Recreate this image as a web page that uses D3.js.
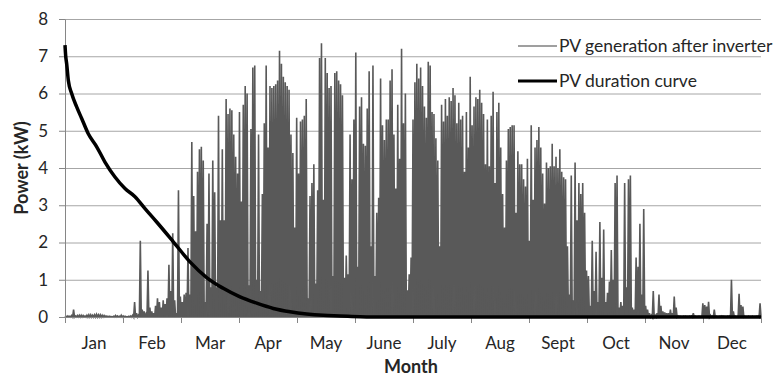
<!DOCTYPE html>
<html>
<head>
<meta charset="utf-8">
<script src="https://cdn.jsdelivr.net/npm/d3@7"></script>
<style>
  body { margin: 0; background: #fff; }
  text { font-family: Lato, "Liberation Sans", sans-serif; }
</style>
</head>
<body>
<div id="chart"></div>
<script>
// daily peak of PV generation after inverter (kW), one array per month
const jan = [0.02,0.03,0.02,0.04,0.2,0.03,0.04,0.05,0.05,0.04,0.03,0.05,0.06,0.06,0.05,0.06,0.07,0.06,0.06,0.05,0.04,0.03,0.02,0.02,0.01,0.02,0.04,0.03,0.02,0.05,0.03];
const feb = [0.02,0.01,0.02,0.03,0.05,0.4,0.1,0.05,2.05,0.2,0.15,0.08,1.25,0.25,0.15,0.1,0.3,0.5,0.4,0.25,0.45,0.35,0.5,1.4,0.7,2.25,0.45,0.1];
const mar = [3.4,0.55,0.4,0.6,0.65,1.85,0.6,4.7,3.25,2.3,3.9,4.5,4.57,4.2,0.4,2.5,3.85,0.8,4.2,3.35,0.8,5.4,2.6,4.5,2.6,5.85,5.45,5.6,5.55,4.9,4.3];
const apr = [3.85,5.5,3.1,5.7,6.2,6.0,0.85,5.05,6.7,6.75,1.0,4.9,0.7,3.3,5.2,6.75,4.55,6.2,6.15,6.2,6.25,6.35,7.15,6.8,6.45,6.3,6.2,6.1,4.9,4.4];
const may = [2.4,5.35,3.85,5.25,5.3,5.4,5.85,0.5,3.25,3.6,4.1,0.9,3.4,6.95,7.35,3.15,6.95,6.55,6.15,6.2,1.1,6.55,6.6,6.35,6.25,5.95,1.05,1.65,1.15,4.9,3.7];
const jun = [5.3,7.1,1.35,5.65,5.9,4.65,4.6,5.6,6.6,1.9,6.75,1.1,2.8,3.2,6.4,5.15,4.75,5.3,5.3,6.35,6.65,4.9,3.45,5.7,4.25,7.2,5.2,6.0,0.72,1.15];
const jul = [1.6,5.3,6.3,6.8,6.4,6.7,6.2,5.65,5.35,6.85,6.75,5.5,5.45,4.8,4.2,1.9,5.7,5.25,5.85,5.4,5.9,5.8,6.15,5.95,5.2,5.75,5.3,5.4,3.9,5.5,4.55];
const aug = [6.45,5.15,5.65,5.9,5.85,6.1,5.75,5.45,4.1,5.3,4.05,5.4,6.05,3.6,5.5,5.75,4.55,3.3,2.4,4.2,5.05,5.1,5.15,5.15,2.8,4.45,4.1,4.1,3.7,3.5,4.25];
const sep = [2.05,5.15,3.15,4.55,4.75,5.1,4.55,3.85,3.05,4.15,4.0,4.05,4.65,4.05,4.3,4.0,4.5,3.9,3.75,3.7,1.9,0.6,3.8,0.45,4.15,2.6,3.6,3.3,3.6,2.8];
const oct = [1.25,1.1,0.3,2.05,0.7,1.75,0.4,2.55,1.05,2.35,0.4,0.65,0.95,1.8,1.0,3.6,3.8,0.25,0.4,0.3,3.6,0.8,3.7,3.8,0.25,0.2,1.6,1.35,2.5,0.6,2.9];
const nov = [0.3,0.2,0.1,0.05,0.7,0.05,0.1,0.6,0.3,0.15,0.12,0.1,0.1,0.2,0.1,0.55,0.25,0.03,0.02,0.01,0.02,0.02,0.01,0.02,0.03,0.1,0.02,0.01,0.02,0.01];
const dec = [0.37,0.32,0.28,0.41,0.05,0.02,0.2,0.02,0.01,0.02,0.03,0.02,0.01,0.02,0.03,1.0,0.15,0.02,0.01,0.62,0.32,0.28,0.02,0.01,0.02,0.01,0.02,0.01,0.02,0.03,0.37];

// duration curve: hours of the year ranked, power (kW)
const durHour = [0,9,21,42,84,147,210,293,399,503,629,755,881,1007,1154,1363,1573,1783,1992,2203,2413,2622,2832,3042,3251,3461,3713,4000,8760];
const durKW   = [7.3,7.0,6.8,6.35,6.0,5.64,5.33,4.92,4.57,4.16,3.76,3.45,3.23,2.91,2.55,2.02,1.48,1.06,0.77,0.54,0.37,0.23,0.14,0.08,0.045,0.03,0.01,0,0];

const months = ["Jan","Feb","Mar","Apr","May","June","July","Aug","Sept","Oct","Nov","Dec"];
const yTicks = [0,1,2,3,4,5,6,7,8];
const seriesNames = ["PV generation after inverter", "PV duration curve"];

const width = 775, height = 380;
const x = d3.scaleLinear().domain([0, 365]).range([65, 761]);
const y = d3.scaleLinear().domain([0, 8]).range([317, 19]);

const svg = d3.select("#chart").append("svg")
    .attr("width", width)
    .attr("height", height);

// gridlines
svg.append("g")
    .attr("transform", "translate(65,0)")
    .call(d3.axisLeft(y).tickValues(yTicks.slice(1)).tickSize(-696).tickFormat(""))
    .call(g => g.select(".domain").remove())
    .selectAll("line").attr("stroke", "#a6a6a6");

// generation: each day goes up to its peak and back to zero
const days = [].concat(jan, feb, mar, apr, may, jun, jul, aug, sep, oct, nov, dec);
const pts = [];
days.forEach((v, i) => {
    pts.push([i, 0], [i + 0.5, v], [i + 1, 0]);
});
const line = d3.line().x(d => x(d[0])).y(d => y(d[1]));
svg.append("path")
    .datum(pts)
    .attr("d", line)
    .attr("fill", "#595959")
    .attr("stroke", "#595959")
    .attr("stroke-width", 1.6)
    .attr("stroke-linejoin", "miter");

// axes
const monthTicks = d3.range(13).map(i => i * 365 / 12);
svg.append("g")
    .attr("transform", "translate(0,317)")
    .call(d3.axisBottom(x).tickValues(monthTicks).tickSize(6).tickSizeOuter(0).tickFormat(""))
    .call(g => g.selectAll("line,path").attr("stroke", "#868686"));

svg.append("g")
    .attr("transform", "translate(65,0)")
    .call(d3.axisLeft(y).tickValues(yTicks).tickSize(6).tickSizeOuter(0).tickPadding(11))
    .call(g => g.selectAll("line,path").attr("stroke", "#868686"))
    .call(g => g.selectAll("text").attr("font-size", 17).attr("fill", "#262626")
        .attr("font-family", "Lato, sans-serif"));

svg.append("g").selectAll("text")
    .data(months)
    .join("text")
    .attr("x", (d, i) => x((i + 0.5) * 365 / 12))
    .attr("y", 349)
    .attr("text-anchor", "middle")
    .attr("font-size", 17)
    .attr("fill", "#262626")
    .text(d => d);

// duration curve
const dur = durHour.map((h, i) => [h / 24, durKW[i]]);
svg.append("path")
    .datum(dur)
    .attr("d", d3.line().x(d => x(d[0])).y(d => y(d[1])).curve(d3.curveMonotoneX))
    .attr("fill", "none")
    .attr("stroke", "#000")
    .attr("stroke-width", 3.5);

// titles
svg.append("text")
    .attr("x", 411).attr("y", 373)
    .attr("text-anchor", "middle")
    .attr("font-size", 18).attr("font-weight", "bold")
    .attr("fill", "#262626")
    .text("Month");
svg.append("text")
    .attr("transform", "translate(28,168) rotate(-90)")
    .attr("text-anchor", "middle")
    .attr("font-size", 18).attr("font-weight", "bold")
    .attr("fill", "#262626")
    .text("Power (kW)");

// legend
const legend = svg.append("g");
[46, 81].forEach((ly, i) => {
    legend.append("line")
        .attr("x1", 518).attr("x2", 557)
        .attr("y1", ly).attr("y2", ly)
        .attr("stroke", i === 0 ? "#7f7f7f" : "#000")
        .attr("stroke-width", i === 0 ? 1.5 : 3);
    legend.append("text")
        .attr("x", 559).attr("y", ly + 6)
        .attr("font-size", 17.5)
        .attr("fill", "#262626")
        .text(seriesNames[i]);
});
</script>
</body>
</html>
